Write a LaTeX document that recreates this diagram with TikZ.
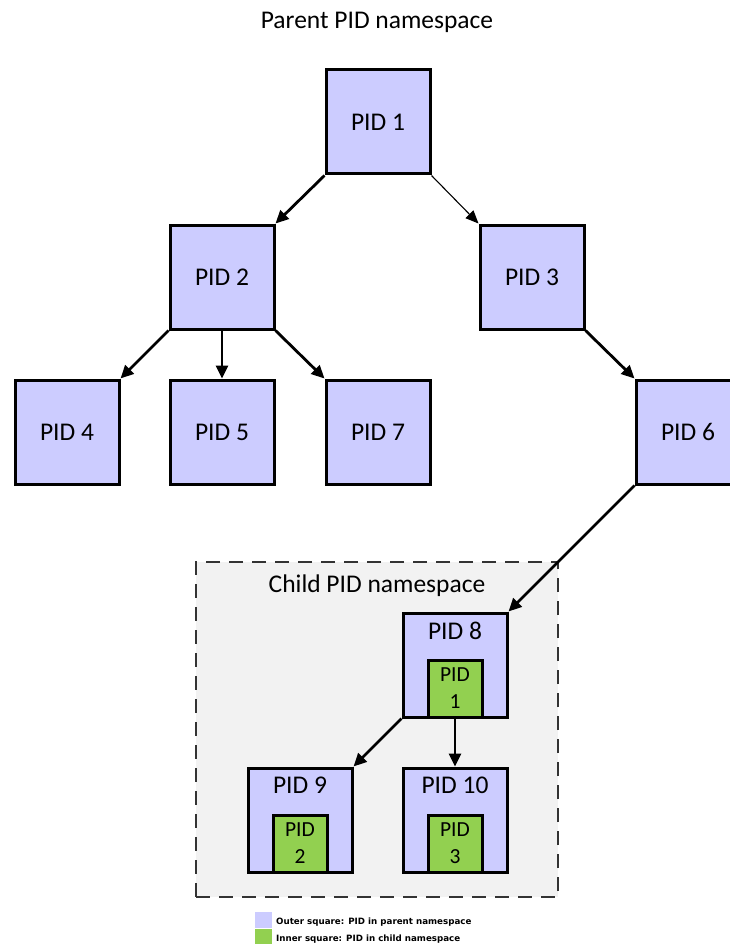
\documentclass[tikz,border=0pt]{standalone}
\usepackage{fontspec}
\setmainfont{Carlito}
\newfontfamily\legendfont{DejaVu Sans}
\usetikzlibrary{arrows.meta}

\definecolor{pidblue}{HTML}{CCCCFF}
\definecolor{pidgreen}{HTML}{92D050}
\definecolor{nsgray}{HTML}{F2F2F2}

\tikzset{
  pidbox/.style={draw, fill=pidblue, line width=3pt, minimum size=104pt, inner sep=0pt, font=\fontsize{25.5}{28}\selectfont},
  childbox/.style={draw, fill=pidgreen, line width=3pt, minimum width=54pt, minimum height=57pt, inner sep=0pt, align=center, font=\fontsize{21.5}{27}\selectfont},
  boxtitle/.style={anchor=north, inner sep=0pt, font=\fontsize{25.5}{28}\selectfont},
  link/.style={line width=2.8pt, -{Triangle[length=13pt,width=12pt]}},
  thinlink/.style={line width=1.1pt, -{Triangle[length=13pt,width=11pt]}},
  swatch/.style={minimum width=17pt, minimum height=16pt, inner sep=0pt},
  legendtext/.style={anchor=west, inner sep=0pt, font=\legendfont\bfseries\fontsize{8.7}{10}\selectfont}
}

\begin{document}
\begin{tikzpicture}[x=1pt, y=-1pt]
    \useasboundingbox (0,0) rectangle (729,944);
    \node[font=\fontsize{25.5}{28}\selectfont] (parentns) at (377,22) {Parent PID namespace};
    % child namespace region
    \node[draw=black!80, fill=nsgray, line width=1.3pt, dash pattern=on 14pt off 9pt, minimum width=362pt, minimum height=335pt, inner sep=0pt] (childns) at (377,729.5) {};
    \node[font=\fontsize{25.5}{28}\selectfont] (childtitle) at (377,586) {Child PID namespace};
    % parent tree
    \node[pidbox] (p1) at (378,122) {PID 1};
    \node[pidbox] (p2) at (222,277) {PID 2};
    \node[pidbox] (p3) at (532,277) {PID 3};
    \node[pidbox] (p4) at (67,432) {PID 4};
    \node[pidbox] (p5) at (222,432) {PID 5};
    \node[pidbox] (p7) at (378,432) {PID 7};
    \node[pidbox] (p6) at (688,432) {PID 6};
    % child tree
    \node[pidbox] (p8) at (455,665) {};
    \node[boxtitle] (t8) at ([yshift=-10pt]p8.north) {PID 8};
    \node[childbox, anchor=south] (c1) at (p8.south) {PID\\1};
    \node[pidbox] (p9) at (300,820) {};
    \node[boxtitle] (t9) at ([yshift=-10pt]p9.north) {PID 9};
    \node[childbox, anchor=south] (c2) at (p9.south) {PID\\2};
    \node[pidbox] (p10) at (455,820) {};
    \node[boxtitle] (t10) at ([yshift=-10pt]p10.north) {PID 10};
    \node[childbox, anchor=south] (c3) at (p10.south) {PID\\3};
    % links
    \draw[link] (p1.south west) -- (p2.north east);
    \draw[thinlink] (p1.south east) -- (p3.north west);
    \draw[link] (p2.south west) -- (p4.north east);
    \draw[link] (p2.south) -- (p5.north);
    \draw[link] (p2.south east) -- (p7.north west);
    \draw[link] (p3.south east) -- (p6.north west);
    \draw[link] (p6.south west) -- (p8.north east);
    \draw[link] (p8.south west) -- (p9.north east);
    \draw[link] (c1.south) -- (p10.north);
    % legend
    \node[swatch, fill=pidblue] (keyouter) at (263.5,920) {};
    \node[swatch, fill=pidgreen] (keyinner) at (263.5,936.5) {};
    \node[legendtext] (keyoutertext) at (276,922) {Outer square: PID in parent namespace};
    \node[legendtext] (keyinnertext) at (276,939) {Inner square: PID in child namespace};
\end{tikzpicture}
\end{document}
